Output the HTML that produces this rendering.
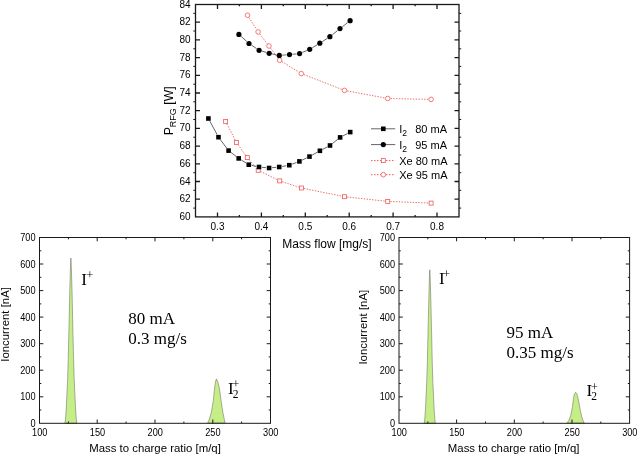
<!DOCTYPE html>
<html><head><meta charset="utf-8"><title>Chart</title>
<style>
html,body{margin:0;padding:0;background:#fff;}
body{width:637px;height:455px;overflow:hidden;font-family:"Liberation Sans",sans-serif;}
svg{display:block;will-change:transform;}
</style></head><body>
<svg width="637" height="455" viewBox="0 0 637 455">
<rect width="637" height="455" fill="#fff"/>
<g stroke="#1a1a1a" stroke-width="1.3" fill="none">
<rect x="195.5" y="4.5" width="263.5" height="212.4"/>
<path d="M217.5 216.9v-4.5M217.5 4.5v4.5"/>
<path d="M239.4 216.9v-1.8M239.4 4.5v1.8"/>
<path d="M261.4 216.9v-4.5M261.4 4.5v4.5"/>
<path d="M283.3 216.9v-1.8M283.3 4.5v1.8"/>
<path d="M305.3 216.9v-4.5M305.3 4.5v4.5"/>
<path d="M327.2 216.9v-1.8M327.2 4.5v1.8"/>
<path d="M349.2 216.9v-4.5M349.2 4.5v4.5"/>
<path d="M371.2 216.9v-1.8M371.2 4.5v1.8"/>
<path d="M393.1 216.9v-4.5M393.1 4.5v4.5"/>
<path d="M415.1 216.9v-1.8M415.1 4.5v1.8"/>
<path d="M437.0 216.9v-4.5M437.0 4.5v4.5"/>
<path d="M193.3 208.1h2.2M461.2 208.1h-2.2" stroke-width="1"/>
<path d="M195.5 199.2h4.5M459.0 199.2h-4.5"/>
<path d="M193.3 190.3h2.2M461.2 190.3h-2.2" stroke-width="1"/>
<path d="M195.5 181.5h4.5M459.0 181.5h-4.5"/>
<path d="M193.3 172.7h2.2M461.2 172.7h-2.2" stroke-width="1"/>
<path d="M195.5 163.8h4.5M459.0 163.8h-4.5"/>
<path d="M193.3 155.0h2.2M461.2 155.0h-2.2" stroke-width="1"/>
<path d="M195.5 146.1h4.5M459.0 146.1h-4.5"/>
<path d="M193.3 137.2h2.2M461.2 137.2h-2.2" stroke-width="1"/>
<path d="M195.5 128.4h4.5M459.0 128.4h-4.5"/>
<path d="M193.3 119.5h2.2M461.2 119.5h-2.2" stroke-width="1"/>
<path d="M195.5 110.7h4.5M459.0 110.7h-4.5"/>
<path d="M193.3 101.8h2.2M461.2 101.8h-2.2" stroke-width="1"/>
<path d="M195.5 93.0h4.5M459.0 93.0h-4.5"/>
<path d="M193.3 84.2h2.2M461.2 84.2h-2.2" stroke-width="1"/>
<path d="M195.5 75.3h4.5M459.0 75.3h-4.5"/>
<path d="M193.3 66.4h2.2M461.2 66.4h-2.2" stroke-width="1"/>
<path d="M195.5 57.6h4.5M459.0 57.6h-4.5"/>
<path d="M193.3 48.8h2.2M461.2 48.8h-2.2" stroke-width="1"/>
<path d="M195.5 39.9h4.5M459.0 39.9h-4.5"/>
<path d="M193.3 31.0h2.2M461.2 31.0h-2.2" stroke-width="1"/>
<path d="M195.5 22.2h4.5M459.0 22.2h-4.5"/>
<path d="M193.3 13.4h2.2M461.2 13.4h-2.2" stroke-width="1"/>
</g>
<g font-family="Liberation Sans, sans-serif" font-size="10" fill="#000" text-anchor="end">
<text x="190.6" y="219.9">60</text>
<text x="190.6" y="202.2">62</text>
<text x="190.6" y="184.5">64</text>
<text x="190.6" y="166.8">66</text>
<text x="190.6" y="149.1">68</text>
<text x="190.6" y="131.4">70</text>
<text x="190.6" y="113.7">72</text>
<text x="190.6" y="96.0">74</text>
<text x="190.6" y="78.3">76</text>
<text x="190.6" y="60.6">78</text>
<text x="190.6" y="42.9">80</text>
<text x="190.6" y="25.2">82</text>
<text x="190.6" y="7.5">84</text>
</g>
<g font-family="Liberation Sans, sans-serif" font-size="10" fill="#000" text-anchor="middle">
<text x="217.5" y="230.3">0.3</text>
<text x="261.4" y="230.3">0.4</text>
<text x="305.3" y="230.3">0.5</text>
<text x="349.2" y="230.3">0.6</text>
<text x="393.1" y="230.3">0.7</text>
<text x="437.0" y="230.3">0.8</text>
</g>
<text x="327" y="247.7" font-family="Liberation Sans, sans-serif" font-size="12" fill="#000" text-anchor="middle">Mass flow [mg/s]</text>
<text transform="translate(172.6,110.8) rotate(-90)" font-family="Liberation Sans, sans-serif" font-size="12.3" fill="#000" text-anchor="middle">P<tspan font-size="9" dy="3">RFG</tspan><tspan dy="-3"> [W]</tspan></text>
<path d="M226.80 123.81L235.30 140.19M238.01 144.61L245.79 155.49M248.99 159.57L256.51 168.33M260.53 171.45L277.37 179.75M282.17 181.71L298.93 187.19M303.95 188.51L341.95 196.19M347.08 196.98L385.12 201.12M390.30 201.50L428.50 203.00" fill="none" stroke="#ee5a5a" stroke-width="0.9" stroke-dasharray="1.4 1.4"/>
<path d="M249.00 17.56L256.60 29.54M259.81 34.12L267.29 43.78M270.67 48.24L277.93 57.96M281.98 61.67L298.92 72.13M303.91 74.61L341.89 89.39M347.25 90.92L384.95 97.98M390.50 98.56L428.30 99.34" fill="none" stroke="#ee5a5a" stroke-width="0.9" stroke-dasharray="1.4 1.4"/>
<path d="M209.83 121.14L217.07 134.56M220.31 139.60L226.79 148.20M230.97 152.43L236.33 156.57M241.25 159.99L246.25 163.11M251.73 165.36L256.07 166.34M261.99 167.30L266.11 167.70M272.09 167.70L276.21 167.30M282.15 166.47L286.35 165.73M292.11 164.14L296.59 162.46M302.11 160.11L306.79 157.89M312.12 155.14L317.28 152.26M322.56 149.41L327.34 146.89M332.34 143.62L337.76 139.28M342.76 136.01L347.54 133.49" fill="none" stroke="#333" stroke-width="0.75"/>
<path d="M241.13 36.41L246.77 41.49M251.49 45.18L256.61 48.62M261.98 51.15L266.32 52.45M272.14 53.91L276.36 54.79M282.29 55.17L286.51 54.83M292.49 54.30L296.61 53.90M302.36 52.42L306.94 50.48M312.27 47.75L317.23 44.75M322.32 41.58L327.38 38.32M332.24 34.82L337.66 30.48M342.36 26.75L347.74 22.55" fill="none" stroke="#333" stroke-width="0.75"/>
<rect x="223.6" y="119.5" width="4" height="4" fill="#fff" stroke="#ee5a5a" stroke-width="0.8"/>
<rect x="234.5" y="140.5" width="4" height="4" fill="#fff" stroke="#ee5a5a" stroke-width="0.8"/>
<rect x="245.3" y="155.6" width="4" height="4" fill="#fff" stroke="#ee5a5a" stroke-width="0.8"/>
<rect x="256.2" y="168.3" width="4" height="4" fill="#fff" stroke="#ee5a5a" stroke-width="0.8"/>
<rect x="277.7" y="178.9" width="4" height="4" fill="#fff" stroke="#ee5a5a" stroke-width="0.8"/>
<rect x="299.4" y="186" width="4" height="4" fill="#fff" stroke="#ee5a5a" stroke-width="0.8"/>
<rect x="342.5" y="194.7" width="4" height="4" fill="#fff" stroke="#ee5a5a" stroke-width="0.8"/>
<rect x="385.7" y="199.4" width="4" height="4" fill="#fff" stroke="#ee5a5a" stroke-width="0.8"/>
<rect x="429.1" y="201.1" width="4" height="4" fill="#fff" stroke="#ee5a5a" stroke-width="0.8"/>
<circle cx="247.5" cy="15.2" r="2.3" fill="#fff" stroke="#ee5a5a" stroke-width="0.8"/>
<circle cx="258.1" cy="31.9" r="2.3" fill="#fff" stroke="#ee5a5a" stroke-width="0.8"/>
<circle cx="269" cy="46" r="2.3" fill="#fff" stroke="#ee5a5a" stroke-width="0.8"/>
<circle cx="279.6" cy="60.2" r="2.3" fill="#fff" stroke="#ee5a5a" stroke-width="0.8"/>
<circle cx="301.3" cy="73.6" r="2.3" fill="#fff" stroke="#ee5a5a" stroke-width="0.8"/>
<circle cx="344.5" cy="90.4" r="2.3" fill="#fff" stroke="#ee5a5a" stroke-width="0.8"/>
<circle cx="387.7" cy="98.5" r="2.3" fill="#fff" stroke="#ee5a5a" stroke-width="0.8"/>
<circle cx="431.1" cy="99.4" r="2.3" fill="#fff" stroke="#ee5a5a" stroke-width="0.8"/>
<rect x="206.1" y="116.2" width="4.6" height="4.6" fill="#000"/>
<rect x="216.2" y="134.9" width="4.6" height="4.6" fill="#000"/>
<rect x="226.3" y="148.3" width="4.6" height="4.6" fill="#000"/>
<rect x="236.4" y="156.1" width="4.6" height="4.6" fill="#000"/>
<rect x="246.5" y="162.4" width="4.6" height="4.6" fill="#000"/>
<rect x="256.7" y="164.7" width="4.6" height="4.6" fill="#000"/>
<rect x="266.8" y="165.7" width="4.6" height="4.6" fill="#000"/>
<rect x="276.9" y="164.7" width="4.6" height="4.6" fill="#000"/>
<rect x="287.0" y="162.9" width="4.6" height="4.6" fill="#000"/>
<rect x="297.1" y="159.1" width="4.6" height="4.6" fill="#000"/>
<rect x="307.2" y="154.3" width="4.6" height="4.6" fill="#000"/>
<rect x="317.6" y="148.5" width="4.6" height="4.6" fill="#000"/>
<rect x="327.7" y="143.2" width="4.6" height="4.6" fill="#000"/>
<rect x="337.8" y="135.1" width="4.6" height="4.6" fill="#000"/>
<rect x="347.9" y="129.8" width="4.6" height="4.6" fill="#000"/>
<circle cx="238.9" cy="34.4" r="2.6" fill="#000"/>
<circle cx="249" cy="43.5" r="2.6" fill="#000"/>
<circle cx="259.1" cy="50.3" r="2.6" fill="#000"/>
<circle cx="269.2" cy="53.3" r="2.6" fill="#000"/>
<circle cx="279.3" cy="55.4" r="2.6" fill="#000"/>
<circle cx="289.5" cy="54.6" r="2.6" fill="#000"/>
<circle cx="299.6" cy="53.6" r="2.6" fill="#000"/>
<circle cx="309.7" cy="49.3" r="2.6" fill="#000"/>
<circle cx="319.8" cy="43.2" r="2.6" fill="#000"/>
<circle cx="329.9" cy="36.7" r="2.6" fill="#000"/>
<circle cx="340" cy="28.6" r="2.6" fill="#000"/>
<circle cx="350.1" cy="20.7" r="2.6" fill="#000"/>
<path d="M371 128.8H395.2M371 144.6H395.2" stroke="#555" stroke-width="0.9"/>
<path d="M371 160.6H395.2M371 174.7H395.2" stroke="#ee5a5a" stroke-width="1" stroke-dasharray="1.5 1.5"/>
<rect x="381.0" y="126.50000000000001" width="4.6" height="4.6" fill="#000"/>
<circle cx="383.3" cy="144.6" r="2.6" fill="#000"/>
<rect x="381.3" y="158.6" width="4" height="4" fill="#fff" stroke="#ee5a5a" stroke-width="0.8"/>
<circle cx="383.3" cy="174.7" r="2.3" fill="#fff" stroke="#ee5a5a" stroke-width="0.8"/>
<g font-family="Liberation Sans, sans-serif" font-size="11" fill="#000">
<text x="399.2" y="132.70000000000002">I<tspan font-size="8.5" dy="3.3">2</tspan></text><text x="415.2" y="132.70000000000002">80 mA</text>
<text x="399.2" y="148.5">I<tspan font-size="8.5" dy="3.3">2</tspan></text><text x="415.2" y="148.5">95 mA</text>
<text x="399.2" y="164.7">Xe 80 mA</text>
<text x="399.2" y="178.5">Xe 95 mA</text>
</g>
<g stroke="#1a1a1a" stroke-width="1" fill="none">
<polygon points="64.9,423.3 65.6,418.3 66.3,407.3 67.6,379.5 68.2,359.7 68.7,339.8 69.8,289.4 70.5,266.3 70.9,258.0 71.3,266.3 72.0,289.4 73.1,339.8 73.6,359.7 74.2,379.5 75.5,407.3 76.2,418.3 76.9,423.3" fill="#c5ee88" stroke="#606058" stroke-width="0.5" stroke-linejoin="round"/>
<polygon points="207.6,423.1 209.3,419.3 211.4,412.1 213.3,400.7 214.3,390.7 215.4,382.1 216.4,378.9 217.9,382.1 219.6,389.3 220.7,397.9 221.9,406.4 223.1,413.6 224.3,419.3 225.3,423.1" fill="#c5ee88" stroke="#606058" stroke-width="0.5" stroke-linejoin="round"/>
<rect x="39.5" y="237.5" width="231.0" height="185.8"/>
<path d="M68.4 423.3v-1.8M68.4 237.5v1.8"/>
<path d="M97.2 423.3v-3.8M97.2 237.5v3.8"/>
<path d="M126.1 423.3v-1.8M126.1 237.5v1.8"/>
<path d="M155.0 423.3v-3.8M155.0 237.5v3.8"/>
<path d="M183.9 423.3v-1.8M183.9 237.5v1.8"/>
<path d="M212.8 423.3v-3.8M212.8 237.5v3.8"/>
<path d="M241.6 423.3v-1.8M241.6 237.5v1.8"/>
<path d="M39.5 410.0h1.8M270.5 410.0h-1.8"/>
<path d="M39.5 396.8h3.8M270.5 396.8h-3.8"/>
<path d="M39.5 383.5h1.8M270.5 383.5h-1.8"/>
<path d="M39.5 370.2h3.8M270.5 370.2h-3.8"/>
<path d="M39.5 356.9h1.8M270.5 356.9h-1.8"/>
<path d="M39.5 343.7h3.8M270.5 343.7h-3.8"/>
<path d="M39.5 330.4h1.8M270.5 330.4h-1.8"/>
<path d="M39.5 317.1h3.8M270.5 317.1h-3.8"/>
<path d="M39.5 303.9h1.8M270.5 303.9h-1.8"/>
<path d="M39.5 290.6h3.8M270.5 290.6h-3.8"/>
<path d="M39.5 277.3h1.8M270.5 277.3h-1.8"/>
<path d="M39.5 264.0h3.8M270.5 264.0h-3.8"/>
<path d="M39.5 250.8h1.8M270.5 250.8h-1.8"/>
</g>
<g font-family="Liberation Sans, sans-serif" font-size="10" fill="#000" text-anchor="end">
<text transform="translate(35.5,426.8) scale(0.92,1)">0</text>
<text transform="translate(35.5,400.3) scale(0.92,1)">100</text>
<text transform="translate(35.5,373.7) scale(0.92,1)">200</text>
<text transform="translate(35.5,347.2) scale(0.92,1)">300</text>
<text transform="translate(35.5,320.6) scale(0.92,1)">400</text>
<text transform="translate(35.5,294.1) scale(0.92,1)">500</text>
<text transform="translate(35.5,267.5) scale(0.92,1)">600</text>
<text transform="translate(35.5,241.0) scale(0.92,1)">700</text>
</g>
<g font-family="Liberation Sans, sans-serif" font-size="10" fill="#000" text-anchor="middle">
<text transform="translate(39.7,435.5) scale(0.92,1)">100</text>
<text transform="translate(97.5,435.5) scale(0.92,1)">150</text>
<text transform="translate(155.2,435.5) scale(0.92,1)">200</text>
<text transform="translate(212.9,435.5) scale(0.92,1)">250</text>
<text transform="translate(270.7,435.5) scale(0.92,1)">300</text>
</g>
<text x="155.0" y="451.6" font-family="Liberation Sans, sans-serif" font-size="11.4" fill="#000" text-anchor="middle">Mass to charge ratio [m/q]</text>
<text transform="translate(8.5,324.4) rotate(-90)" font-family="Liberation Sans, sans-serif" font-size="11.4" fill="#000" text-anchor="middle">Ioncurrent [nA]</text>
<g font-family="Liberation Serif, serif" font-size="17" fill="#000">
<text x="128.3" y="323.5">80 mA</text><text x="128.3" y="344.0">0.3 mg/s</text>
<text x="81.3" y="284.6">I<tspan font-size="12" dy="-5.6" dx="-0.4">+</tspan></text>
<text x="228.1" y="393.6">I</text><text x="232.8" y="398.1" font-size="11.5">2</text><text x="232.6" y="388.40000000000003" font-size="12">+</text>
</g>
<g stroke="#1a1a1a" stroke-width="1" fill="none">
<polygon points="424.2,423.3 424.8,418.7 425.5,408.4 426.7,382.6 427.3,364.2 427.7,345.8 428.8,299.0 429.4,277.5 429.8,269.8 430.2,277.5 430.8,299.0 431.9,345.8 432.3,364.2 432.9,382.6 434.1,408.4 434.8,418.7 435.4,423.3" fill="#c5ee88" stroke="#606058" stroke-width="0.5" stroke-linejoin="round"/>
<polygon points="566.9,423.1 568.9,420.3 570.7,415.5 572.3,407.6 573.4,399.2 574.3,394.3 575.6,392.3 576.8,393.7 578.0,398.0 579.2,404.0 580.4,410.7 581.6,416.1 582.8,420.3 584.3,423.1" fill="#c5ee88" stroke="#606058" stroke-width="0.5" stroke-linejoin="round"/>
<rect x="399.0" y="237.5" width="230.60000000000002" height="185.8"/>
<path d="M427.8 423.3v-1.8M427.8 237.5v1.8"/>
<path d="M456.6 423.3v-3.8M456.6 237.5v3.8"/>
<path d="M485.5 423.3v-1.8M485.5 237.5v1.8"/>
<path d="M514.3 423.3v-3.8M514.3 237.5v3.8"/>
<path d="M543.1 423.3v-1.8M543.1 237.5v1.8"/>
<path d="M572.0 423.3v-3.8M572.0 237.5v3.8"/>
<path d="M600.8 423.3v-1.8M600.8 237.5v1.8"/>
<path d="M399.0 410.0h1.8M629.6 410.0h-1.8"/>
<path d="M399.0 396.8h3.8M629.6 396.8h-3.8"/>
<path d="M399.0 383.5h1.8M629.6 383.5h-1.8"/>
<path d="M399.0 370.2h3.8M629.6 370.2h-3.8"/>
<path d="M399.0 356.9h1.8M629.6 356.9h-1.8"/>
<path d="M399.0 343.7h3.8M629.6 343.7h-3.8"/>
<path d="M399.0 330.4h1.8M629.6 330.4h-1.8"/>
<path d="M399.0 317.1h3.8M629.6 317.1h-3.8"/>
<path d="M399.0 303.9h1.8M629.6 303.9h-1.8"/>
<path d="M399.0 290.6h3.8M629.6 290.6h-3.8"/>
<path d="M399.0 277.3h1.8M629.6 277.3h-1.8"/>
<path d="M399.0 264.0h3.8M629.6 264.0h-3.8"/>
<path d="M399.0 250.8h1.8M629.6 250.8h-1.8"/>
</g>
<g font-family="Liberation Sans, sans-serif" font-size="10" fill="#000" text-anchor="end">
<text transform="translate(395.0,426.8) scale(0.92,1)">0</text>
<text transform="translate(395.0,400.3) scale(0.92,1)">100</text>
<text transform="translate(395.0,373.7) scale(0.92,1)">200</text>
<text transform="translate(395.0,347.2) scale(0.92,1)">300</text>
<text transform="translate(395.0,320.6) scale(0.92,1)">400</text>
<text transform="translate(395.0,294.1) scale(0.92,1)">500</text>
<text transform="translate(395.0,267.5) scale(0.92,1)">600</text>
<text transform="translate(395.0,241.0) scale(0.92,1)">700</text>
</g>
<g font-family="Liberation Sans, sans-serif" font-size="10" fill="#000" text-anchor="middle">
<text transform="translate(399.2,435.5) scale(0.92,1)">100</text>
<text transform="translate(456.8,435.5) scale(0.92,1)">150</text>
<text transform="translate(514.5,435.5) scale(0.92,1)">200</text>
<text transform="translate(572.2,435.5) scale(0.92,1)">250</text>
<text transform="translate(629.8,435.5) scale(0.92,1)">300</text>
</g>
<text x="513.7" y="452.1" font-family="Liberation Sans, sans-serif" font-size="11.4" fill="#000" text-anchor="middle">Mass to charge ratio [m/q]</text>
<text transform="translate(366.8,327.2) rotate(-90)" font-family="Liberation Sans, sans-serif" font-size="11.4" fill="#000" text-anchor="middle">Ioncurrent [nA]</text>
<g font-family="Liberation Serif, serif" font-size="17" fill="#000">
<text x="506.5" y="337.7">95 mA</text><text x="506.5" y="358.2">0.35 mg/s</text>
<text x="438.9" y="284.0">I<tspan font-size="12" dy="-5.6" dx="-1.4">+</tspan></text>
<text x="586.6" y="395.6">I</text><text x="591.3" y="400.1" font-size="11.5">2</text><text x="591.1" y="391.0" font-size="12">+</text>
</g>
</svg>
</body></html>
